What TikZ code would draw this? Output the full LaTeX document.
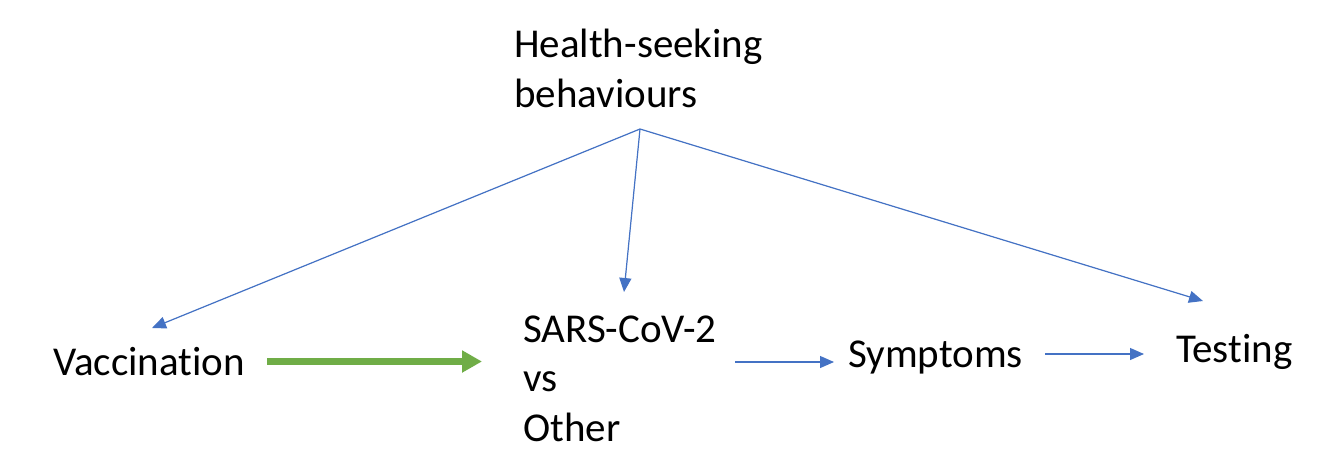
\documentclass[tikz,border=0pt]{standalone}
\usepackage{fontspec}
\setmainfont[Ligatures=NoCommon]{Carlito}
\usetikzlibrary{arrows.meta}
\definecolor{arrowblue}{HTML}{4472C4}
\definecolor{arrowgreen}{HTML}{70AD47}
\begin{document}
\begin{tikzpicture}[x=1pt,y=-1pt,
  lbl/.style={anchor=base west,inner sep=0pt,align=left,font=\fontsize{41}{49.5}\selectfont},
  thin/.style={draw=arrowblue,line width=1.2pt,-{Triangle[length=14pt,width=12pt]},fill=arrowblue},
  thick/.style={draw=arrowgreen,line width=7pt,-{Triangle[length=20pt,width=21pt]}}]
\useasboundingbox (0,0) rectangle (1344,474);
\fill[white] (0,0) rectangle (1344,474);
\node[lbl] (hsb) at (514,107) {Health-seeking\\behaviours};
\node[lbl] (vacc) at (53,375) {Vaccination};
\node[lbl] (sars) at (523,441) {SARS-CoV-2\\vs\\Other};
\node[lbl] (symp) at (848,367) {Symptoms};
\node[lbl] (test) at (1176,362) {Testing};
\coordinate (apex) at (640,129);
\coordinate (vaccin) at (152,328);
\coordinate (sarsin) at (624,292);
\coordinate (testin) at (1203,301);
\coordinate (vaccout) at (267,361.5);
\coordinate (sarsingreen) at (482,361.5);
\coordinate (sarsout) at (735,362);
\coordinate (sympin) at (834,362);
\coordinate (sympout) at (1045,354);
\coordinate (testin2) at (1144,354);
\draw[thin] (apex) -- (vaccin);
\draw[thin] (apex) -- (sarsin);
\draw[thin] (apex) -- (testin);
\draw[thick] (vaccout) -- (sarsingreen);
\draw[thin] (sarsout) -- (sympin);
\draw[thin] (sympout) -- (testin2);
\end{tikzpicture}
\end{document}
